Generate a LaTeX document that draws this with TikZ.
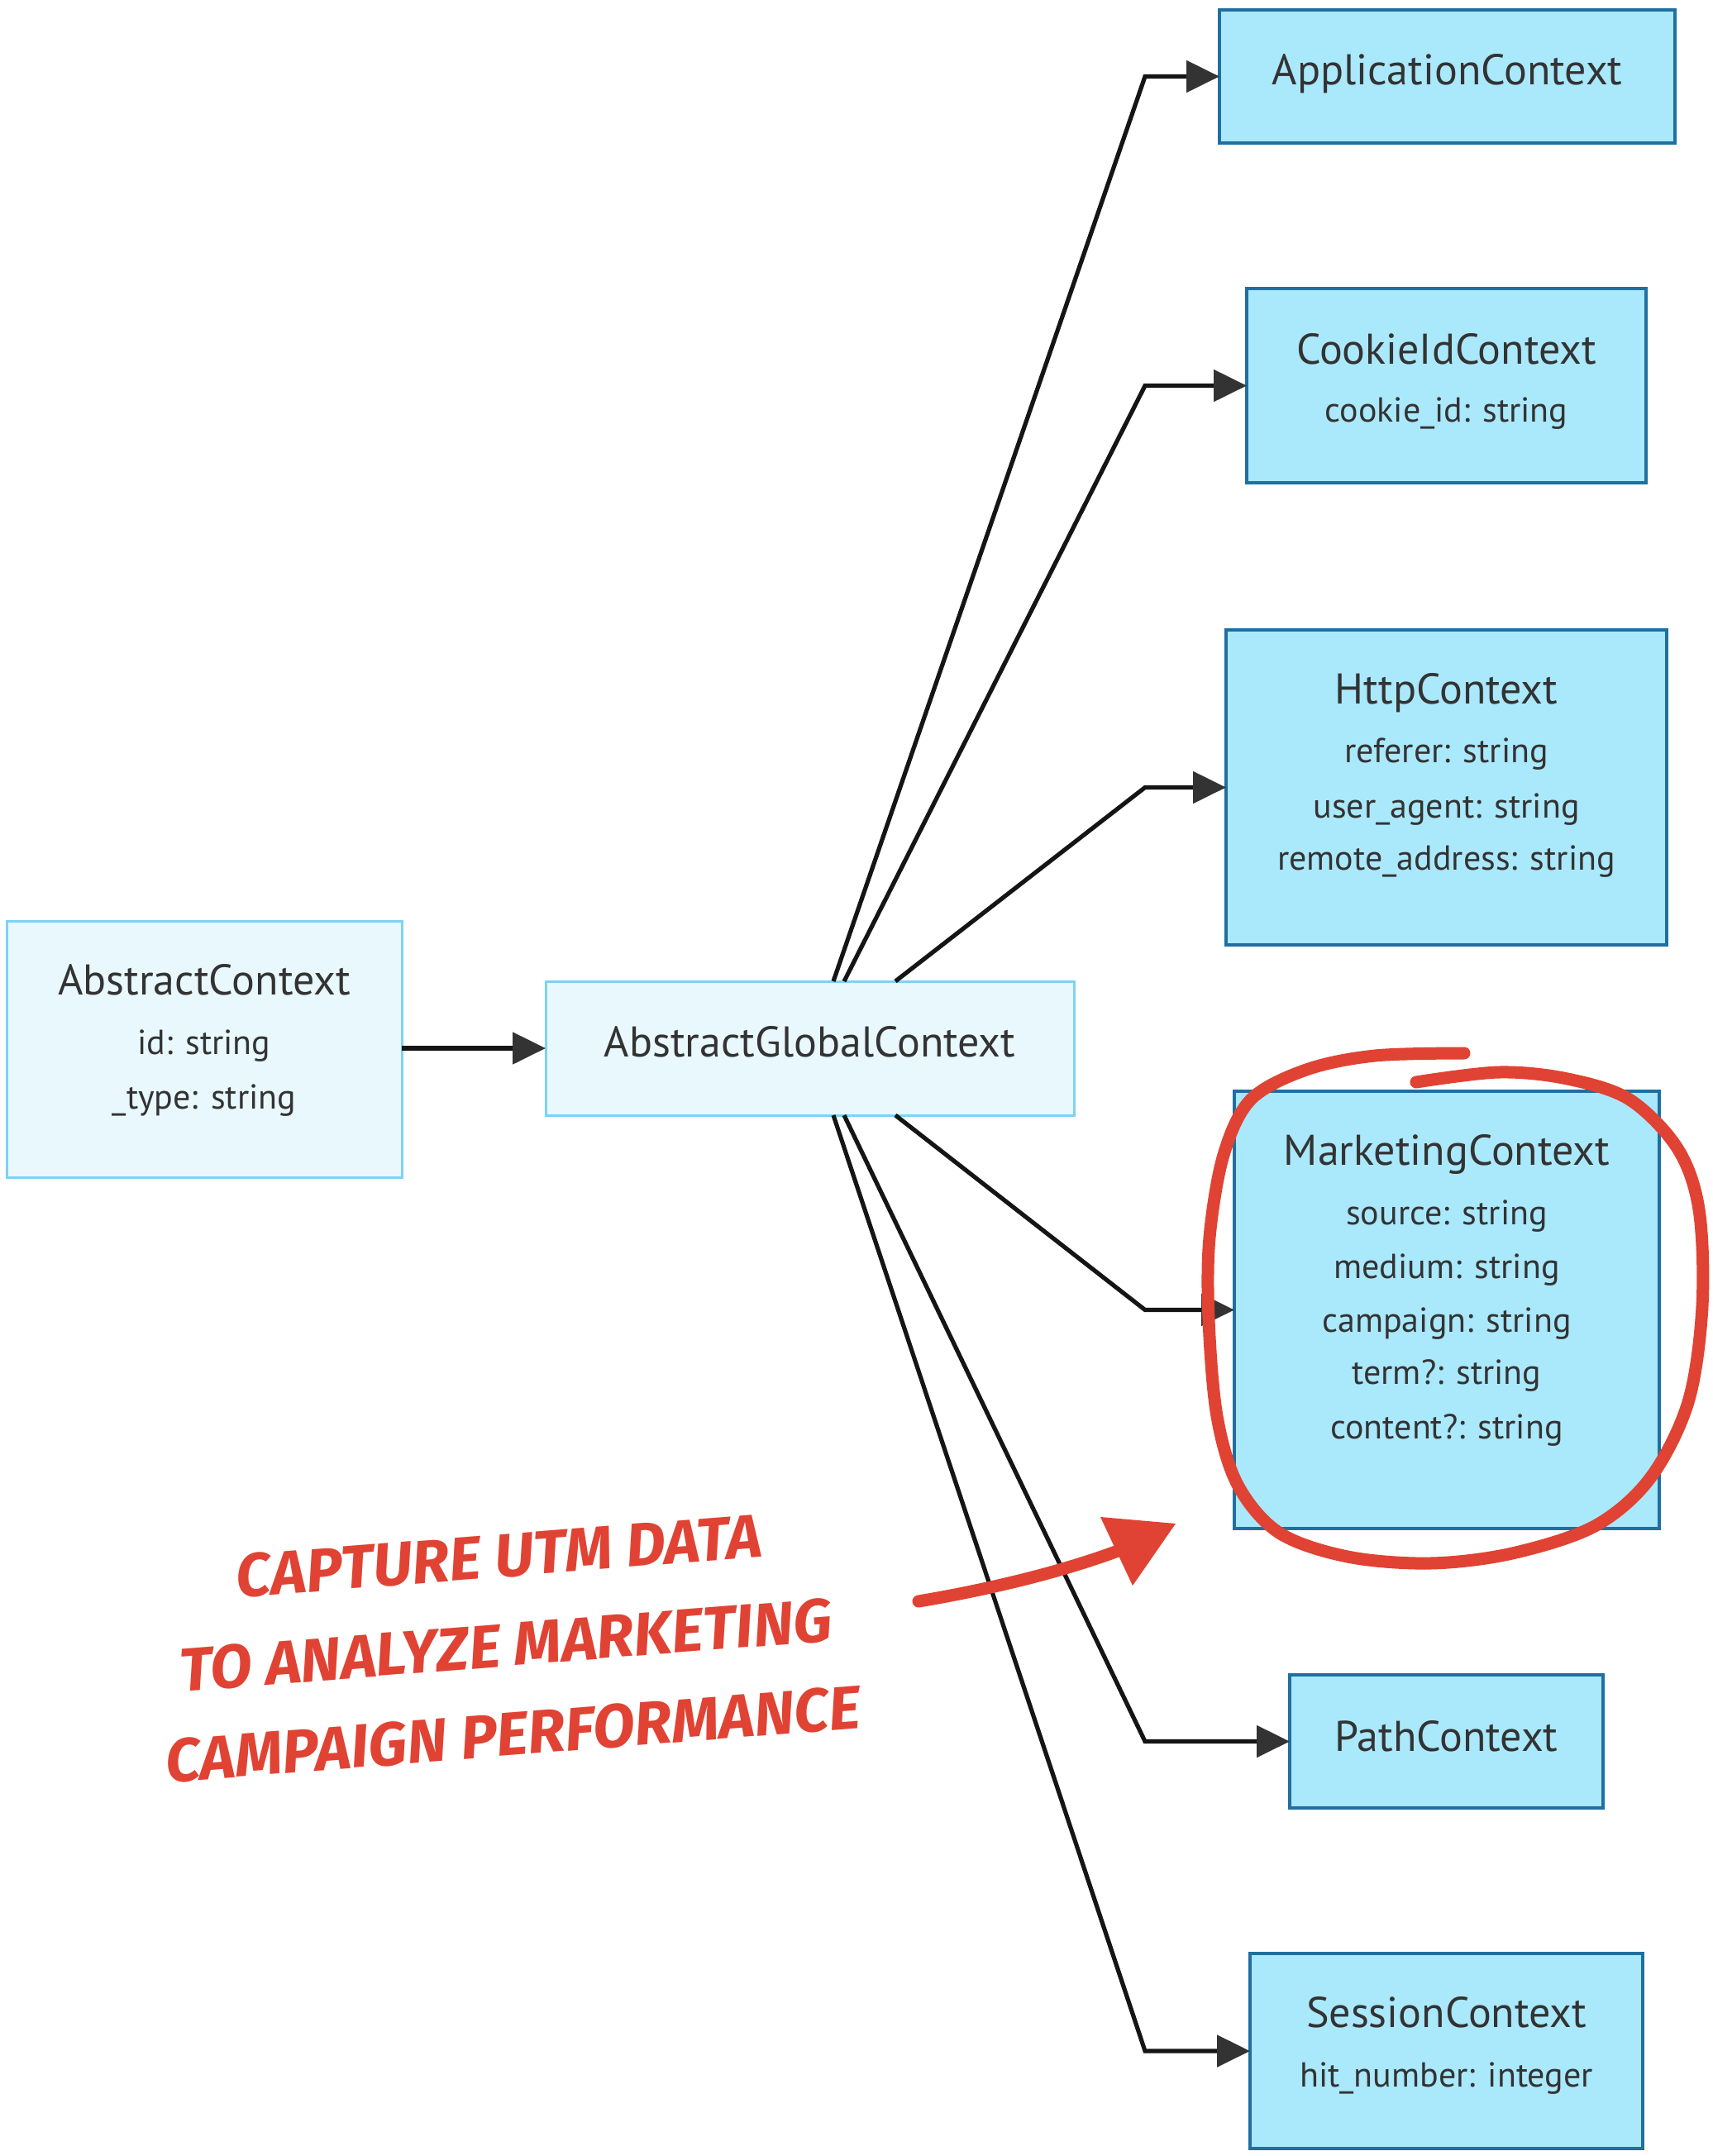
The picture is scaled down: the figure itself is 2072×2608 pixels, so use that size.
\documentclass[tikz,border=0pt]{standalone}
\usepackage{fontspec}
\setmainfont{PT Sans}
\newfontfamily\handfont{Fira Sans}
\usetikzlibrary{arrows.meta,calc}
\definecolor{lightfill}{HTML}{E8F8FD}
\definecolor{lightline}{HTML}{7DD2F7}
\definecolor{darkfill}{HTML}{AAE8FC}
\definecolor{darkline}{HTML}{1F6FA0}
\definecolor{txt}{HTML}{333333}
\definecolor{edge}{HTML}{151515}
\definecolor{tipc}{HTML}{333333}
\definecolor{redmark}{HTML}{E04333}
\begin{document}
\begin{tikzpicture}[x=0.5pt,y=-0.5pt,
 lightbox/.style={draw=lightline, fill=lightfill, line width=1.5pt, inner sep=0pt, outer sep=0pt},
 darkbox/.style={draw=darkline, fill=darkfill, line width=1.75pt, inner sep=0pt, outer sep=0pt},
 titletext/.style={text=txt, font=\fontsize{26}{30}\selectfont, anchor=mid, inner sep=0pt},
 fieldtext/.style={text=txt, font=\fontsize{21}{25}\selectfont, anchor=mid, inner sep=0pt},
 conn/.style={draw=edge, line width=2.6pt, -{Triangle[length=20pt,width=19pt,color=tipc]}},
 redstroke/.style={draw=redmark, line width=7.5pt, line cap=round, line join=round},
]
\useasboundingbox (0,0) rectangle (2072,2608);
\fill[white] (0,0) rectangle (2072,2608);

% boxes
\node[lightbox, minimum width=239pt, minimum height=155pt] (ac) at (247,1269) {};
\node[lightbox, minimum width=319.5pt, minimum height=81pt] (agc) at (979.5,1268) {};
\node[darkbox, minimum width=275.5pt, minimum height=80.5pt] (appc) at (1750.5,92.5) {};
\node[darkbox, minimum width=241.5pt, minimum height=117.5pt] (cookc) at (1749.5,466.5) {};
\node[darkbox, minimum width=266.5pt, minimum height=190.5pt] (httpc) at (1749.5,952.5) {};
\node[darkbox, minimum width=257pt, minimum height=264.5pt] (mktc) at (1750,1584.5) {};
\node[darkbox, minimum width=189.5pt, minimum height=80.5pt] (pathc) at (1749.5,2106.5) {};
\node[darkbox, minimum width=237.5pt, minimum height=118pt] (sessc) at (1749.5,2481) {};

% texts
\node[titletext] (ac-t) at (247,1198) {AbstractContext};
\node[fieldtext] (ac-f1) at (247,1270) {id: string};
\node[fieldtext] (ac-f2) at (247,1336) {\_type: string};
\node[titletext] (agc-t) at (979.5,1273) {AbstractGlobalContext};
\node[titletext] (appc-t) at (1750.5,97) {ApplicationContext};
\node[titletext] (cookc-t) at (1749.5,435) {CookieIdContext};
\node[fieldtext] (cookc-f1) at (1749.5,505) {cookie\_id: string};
\node[titletext] (httpc-t) at (1749.5,846) {HttpContext};
\node[fieldtext] (httpc-f1) at (1749.5,917) {referer: string};
\node[fieldtext] (httpc-f2) at (1749.5,984) {user\_agent: string};
\node[fieldtext] (httpc-f3) at (1749.5,1047) {remote\_address: string};
\node[titletext] (mktc-t) at (1750,1404) {MarketingContext};
\node[fieldtext] (mktc-f1) at (1750,1476) {source: string};
\node[fieldtext] (mktc-f2) at (1750,1541) {medium: string};
\node[fieldtext] (mktc-f3) at (1750,1606) {campaign: string};
\node[fieldtext] (mktc-f4) at (1750,1669) {term?: string};
\node[fieldtext] (mktc-f5) at (1750,1735) {content?: string};
\node[titletext] (pathc-t) at (1749.5,2113) {PathContext};
\node[titletext] (sessc-t) at (1749.5,2447) {SessionContext};
\node[fieldtext] (sessc-f1) at (1749.5,2519) {hit\_number: integer};

% connectors
\coordinate (bend) at (1385,0);
\draw[conn] (ac.east |- agc.west) -- (agc.west);
\draw[conn] ([xshift=174pt]agc.north west) -- (bend |- appc.west) -- (appc.west);
\draw[conn] ([xshift=180.5pt]agc.north west) -- (bend |- cookc.west) -- (cookc.west);
\draw[conn] ([xshift=211.5pt]agc.north west) -- (bend |- httpc.west) -- (httpc.west);
\draw[conn] ([xshift=211.5pt]agc.south west) -- (bend |- mktc.west) -- (mktc.west);
\draw[conn] ([xshift=180.5pt]agc.south west) -- (bend |- pathc.west) -- (pathc.west);
\draw[conn] ([xshift=174pt]agc.south west) -- (bend |- sessc.west) -- (sessc.west);

% annotation
\draw[redstroke] plot[smooth, tension=0.55] coordinates {
 (1771,1274) (1663,1277) (1580,1294) (1513,1330) (1480,1397) (1463,1497)
 (1462,1596) (1472,1713) (1497,1796) (1547,1854) (1630,1883) (1730,1891)
 (1829,1879) (1929,1846) (1996,1788) (2042,1696) (2059,1580) (2055,1463)
 (2029,1389) (1971,1330) (1896,1305) (1813,1297) (1713,1309)};
\node[text=redmark, font=\handfont\bfseries\itshape\fontsize{37}{54}\selectfont, rotate=4.5, align=center, inner sep=0pt] (note) at (612,1990)
 {CAPTURE UTM DATA\\TO ANALYZE MARKETING\\CAMPAIGN PERFORMANCE};
\coordinate (rtail) at (1111,1937);
\coordinate (rbase) at (1360,1873);
\coordinate (rtip) at (1422,1843);
\draw[redstroke] (rtail) .. controls (1200,1922) and (1290,1900) .. (rbase);
\fill[redmark] (rtip) -- (1331,1835) -- (1370,1918) -- cycle;
\end{tikzpicture}
\end{document}
